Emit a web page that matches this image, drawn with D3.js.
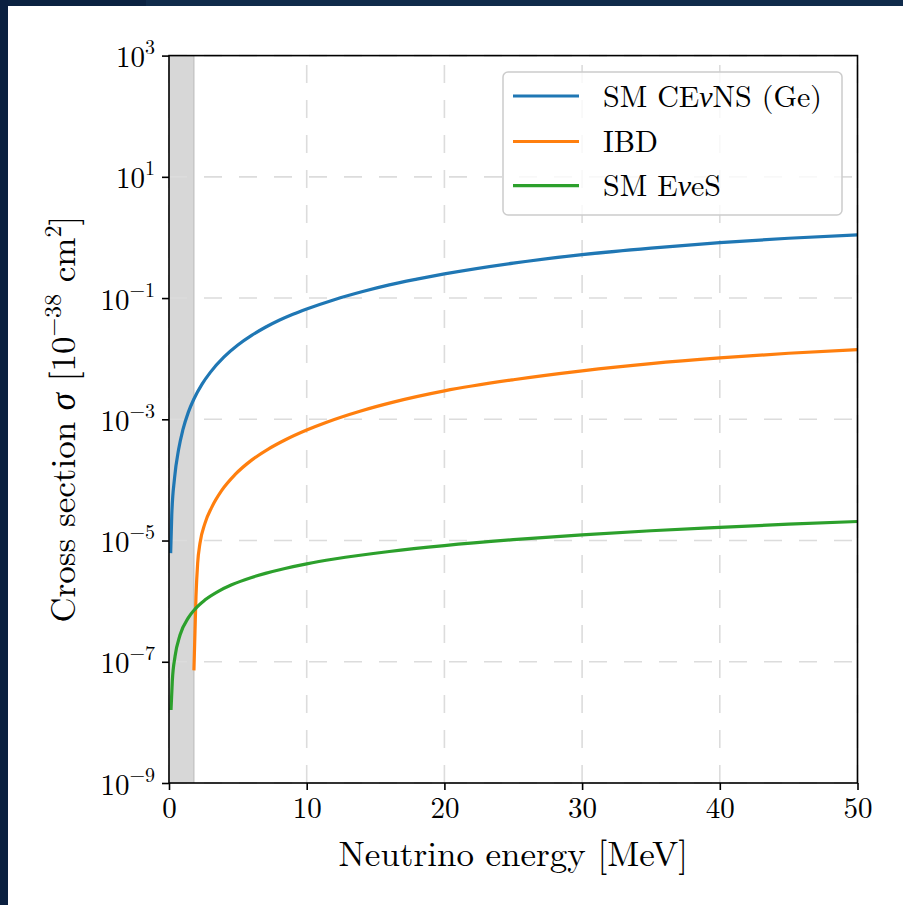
<!DOCTYPE html>
<html>
<head>
<meta charset="utf-8">
<script src="https://cdn.jsdelivr.net/npm/d3@7"></script>
<style>
  html, body { margin: 0; padding: 0; background: #ffffff; }
  svg { display: block; }
</style>
</head>
<body>
<svg id="chart" width="903" height="905"></svg>
<script>
// ---------------- data ----------------
const energyCEvNS = [0.12, 0.2, 0.4, 0.7, 1.0, 1.4, 1.8, 2.4, 3.0, 4.0, 5.0, 6.0, 7.0, 8.0, 9.0, 10, 12, 14, 16, 18, 20, 25, 30, 35, 40, 45, 50];
const sigmaCEvNS  = [6.2e-6, 2.6e-5, 1.06e-4, 3.2e-4, 6.6e-4, 1.3e-3, 2.14e-3, 3.8e-3, 5.95e-3, 0.0107, 0.0168, 0.0242, 0.033, 0.043, 0.054, 0.066, 0.094, 0.127, 0.165, 0.205, 0.25, 0.377, 0.52, 0.667, 0.82, 0.97, 1.10];

const energyIBD = [1.81, 1.89, 1.96, 2.08, 2.25, 2.61, 3.1, 3.83, 4.79, 6.0, 7.21, 8.42, 10, 11.45, 13.87, 16.29, 20, 25, 30, 35, 40, 45, 50];
const sigmaIBD  = [7.2e-8, 3.3e-7, 1.2e-6, 4.2e-6, 9.0e-6, 1.92e-5, 3.53e-5, 6.72e-5, 1.22e-4, 2.12e-4, 3.23e-4, 4.56e-4, 6.66e-4, 8.96e-4, 1.36e-3, 1.92e-3, 2.94e-3, 4.49e-3, 6.3e-3, 8.29e-3, 0.0103, 0.0123, 0.0141];

const energyEveS = [0.145, 0.24, 0.44, 0.8, 1.4, 1.89, 2.6, 3.58, 4.55, 6.0, 7.0, 8.42, 10, 12, 16, 20, 25, 30, 35, 40, 45, 50];
const sigmaEveS  = [1.6e-8, 4.8e-8, 1.23e-7, 2.76e-7, 5.3e-7, 7.4e-7, 1.04e-6, 1.45e-6, 1.86e-6, 2.46e-6, 2.87e-6, 3.46e-6, 4.12e-6, 4.95e-6, 6.6e-6, 8.26e-6, 1.033e-5, 1.24e-5, 1.45e-5, 1.65e-5, 1.86e-5, 2.06e-5];

const seriesNames  = ["SM CEνNS (Ge)", "IBD", "SM EνeS"];
const seriesColors = ["#1f77b4", "#ff7f0e", "#2ca02c"];

const shadedBand = [0, 1.8];           // IBD threshold region [MeV]
const xTicks = [0, 10, 20, 30, 40, 50];
const yTickExponents = [3, 1, -1, -3, -5, -7, -9];
const xDomain = [0, 50];
const yDomain = [1e-9, 1e3];

const xLabel = "Neutrino energy [MeV]";

// ---------------- layout ----------------
const svg = d3.select("#chart");
const W = 903, H = 905;
const L = 169, R = 857.5, T = 55.6, B = 783;
const FONT = "'Latin Modern Roman','CMU Serif','Liberation Serif','DejaVu Serif',serif";

// page background with the dark frame strips
svg.append("rect").attr("x", 0).attr("y", 0).attr("width", W).attr("height", H).attr("fill", "#ffffff");
svg.append("rect").attr("x", 0).attr("y", 0).attr("width", 146).attr("height", 6).attr("fill", "#0b2241");
svg.append("rect").attr("x", 146).attr("y", 0).attr("width", W - 146).attr("height", 6).attr("fill", "#102b4b");
svg.append("rect").attr("x", 0).attr("y", 0).attr("width", 8).attr("height", H).attr("fill", "#0a2040");

const x = d3.scaleLinear().domain(xDomain).range([L, R]);
const y = d3.scaleLog().domain(yDomain).range([B, T]);
const yTicks = yTickExponents.map(e => Math.pow(10, e));

// shaded band
svg.append("rect")
  .attr("x", x(shadedBand[0])).attr("y", T)
  .attr("width", x(shadedBand[1]) - x(shadedBand[0])).attr("height", B - T)
  .attr("fill", "#d7d7d7");
svg.append("line")
  .attr("x1", x(shadedBand[1])).attr("x2", x(shadedBand[1]))
  .attr("y1", T).attr("y2", B)
  .attr("stroke", "#c6c6c6").attr("stroke-width", 1.5);

// grid
const grid = svg.append("g").attr("stroke", "#dcdcdc").attr("stroke-width", 1.6)
  .attr("stroke-dasharray", "18,17").attr("fill", "none");
grid.selectAll("line.v").data(xTicks).join("line").attr("class", "v")
  .attr("x1", d => x(d)).attr("x2", d => x(d)).attr("y1", B).attr("y2", T);
grid.selectAll("line.h").data(yTicks).join("line").attr("class", "h")
  .attr("x1", L).attr("x2", R).attr("y1", d => y(d)).attr("y2", d => y(d));

// curves
const line = d3.line().x(d => x(d[0])).y(d => y(d[1])).curve(d3.curveMonotoneX);
const seriesData = [
  d3.zip(energyCEvNS, sigmaCEvNS),
  d3.zip(energyIBD, sigmaIBD),
  d3.zip(energyEveS, sigmaEveS)
];
svg.append("g").selectAll("path").data(seriesData).join("path")
  .attr("d", d => line(d))
  .attr("fill", "none")
  .attr("stroke", (d, i) => seriesColors[i])
  .attr("stroke-width", 3.2)
  .attr("stroke-linecap", "butt")
  .attr("stroke-linejoin", "round");

// legend
const lg = svg.append("g");
lg.append("rect").attr("x", 503).attr("y", 72).attr("width", 339).attr("height", 143)
  .attr("rx", 5).attr("fill", "#ffffff").attr("fill-opacity", 0.8)
  .attr("stroke", "#cccccc").attr("stroke-width", 1.5);
const legendRowY = [96, 141.5, 185.7];
seriesNames.forEach((name, i) => {
  lg.append("line").attr("x1", 513).attr("x2", 579)
    .attr("y1", legendRowY[i]).attr("y2", legendRowY[i])
    .attr("stroke", seriesColors[i]).attr("stroke-width", 3.2);
  const t = lg.append("text").attr("x", 603).attr("y", legendRowY[i] + 10.5)
    .attr("font-family", FONT).attr("font-size", 30).attr("fill", "#000");
  const parts = name.split("ν");
  parts.forEach((p, j) => {
    t.append("tspan").text(p);
    if (j < parts.length - 1) t.append("tspan").attr("font-style", "italic").text("ν");
  });
});

// axes
const xAxis = d3.axisBottom(x).tickValues(xTicks).tickSize(7).tickSizeOuter(0).tickFormat(d3.format("d"));
const gx = svg.append("g").attr("transform", `translate(0,${B})`).call(xAxis);
gx.select(".domain").remove();
gx.selectAll(".tick line").attr("stroke", "#000").attr("stroke-width", 1.6);
gx.selectAll(".tick text").attr("y", 35).attr("dy", 0)
  .attr("font-family", FONT).attr("font-size", 29).attr("fill", "#000");

const yAxis = d3.axisLeft(y).tickValues(yTicks).tickSize(7).tickSizeOuter(0).tickFormat(() => "");
const gy = svg.append("g").attr("transform", `translate(${L},0)`).call(yAxis);
gy.select(".domain").remove();
gy.selectAll(".tick line").attr("stroke", "#000").attr("stroke-width", 1.6);
gy.selectAll(".tick text").each(function(d, i) {
  const t = d3.select(this);
  t.text(null).attr("x", -14).attr("dy", 0).attr("y", 11)
    .attr("text-anchor", "end")
    .attr("font-family", FONT).attr("font-size", 29).attr("fill", "#000");
  t.append("tspan").text("10");
  const e = yTickExponents[i];
  t.append("tspan").attr("dy", -13).attr("font-size", 20)
    .text(e < 0 ? "\u2212" + Math.abs(e) : String(e));
});

// spines
svg.append("rect").attr("x", L).attr("y", T).attr("width", R - L).attr("height", B - T)
  .attr("fill", "none").attr("stroke", "#000").attr("stroke-width", 1.6);

// axis labels
svg.append("text").attr("x", (L + R) / 2).attr("y", 866)
  .attr("text-anchor", "middle").attr("font-family", FONT).attr("font-size", 35)
  .attr("fill", "#000").text(xLabel);

const yl = svg.append("text")
  .attr("transform", `translate(75,${(T + B) / 2}) rotate(-90)`)
  .attr("text-anchor", "middle").attr("font-family", FONT).attr("font-size", 35).attr("fill", "#000");
yl.append("tspan").text("Cross section ");
yl.append("tspan").attr("font-style", "italic").text("σ");
yl.append("tspan").text("  [10");
yl.append("tspan").attr("dy", -14).attr("font-size", 24).text("\u221238");
yl.append("tspan").attr("dy", 14).text(" cm");
yl.append("tspan").attr("dy", -14).attr("font-size", 24).text("2");
yl.append("tspan").attr("dy", 14).text("]");
</script>
</body>
</html>
